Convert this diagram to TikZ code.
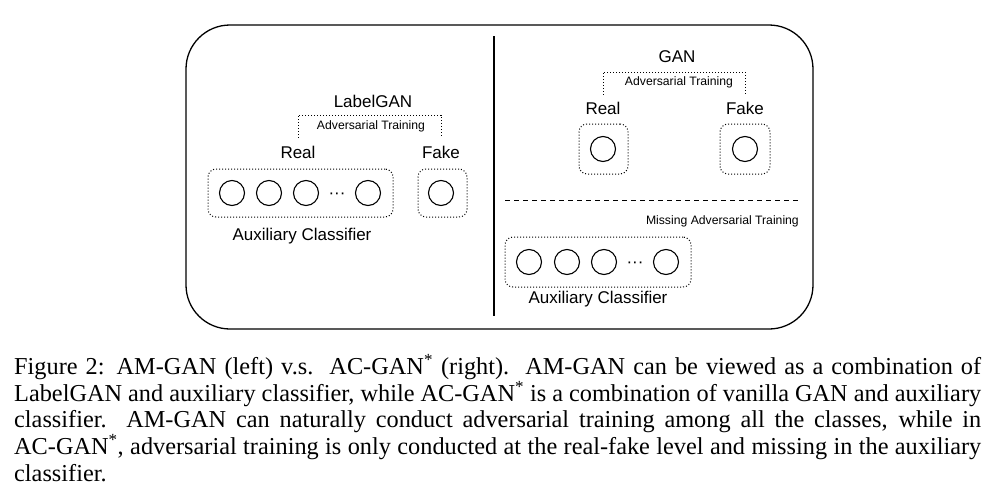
\documentclass[tikz,border=0pt]{standalone}
\usepackage{fontspec}
\setmainfont{Liberation Serif}
\newfontfamily\diagfont{Liberation Sans}
\usetikzlibrary{positioning}
\hyphenpenalty=10000

\begin{document}
\begin{tikzpicture}[x=1pt,y=-1pt,
    cell/.style={circle,draw,line width=1.1pt,minimum size=25pt,inner sep=0pt},
    dotbox/.style={draw,dotted,line width=1pt,rounded corners=8pt,inner sep=0pt},
    txt/.style={font=\diagfont\fontsize{17}{20}\selectfont,inner sep=0pt},
    smalltxt/.style={font=\diagfont\fontsize{12.2}{14}\selectfont,inner sep=0pt},
    bracket/.style={dotted,line width=1pt}]
  \useasboundingbox (0,0) rectangle (997,493);
  \def\cy{193} % row of the left units
  \def\ry{262} % row of the right units

  % frame
  \draw[line width=1.3pt,rounded corners=44pt] (186,25) rectangle (813,329);
  \draw[line width=1.5pt] (494,36) -- (494,316);

  % left: LabelGAN
  \node[dotbox,minimum width=185pt,minimum height=48pt] (lbox) at (300.5,\cy) {};
  \node[dotbox,minimum width=49pt,minimum height=48pt] (lfbox) at (442.5,\cy) {};
  \foreach \x/\n in {232/1,269/2,306/3,368/4}
    \node[cell] (l\n) at (\x,\cy) {};
  \node[txt] (ldots) at (337,\cy+3) {···};
  \node[cell] (lf) at (441,\cy) {};
  \node[txt] (lreal) at (298,152) {Real};
  \node[txt] (lfake) at (441,152) {Fake};
  \node[txt] (lname) at (373,101) {LabelGAN};
  \coordinate (ltop) at (371,115);
  \node[smalltxt] (ltrain) at (371,126) {Adversarial Training};
  \draw[bracket] ([yshift=8pt]lreal.north) |- (ltop) -| ([yshift=8pt]lfake.north);
  \node[txt] (laux) at (302,236) {Auxiliary Classifier};

  % right: GAN + classifier
  \node[txt] (rname) at (677,57) {GAN};
  \coordinate (rtop) at (676,72);
  \node[smalltxt] (rtrain) at (679,82) {Adversarial Training};
  \node[txt] (rreal) at (603,108) {Real};
  \node[txt] (rfake) at (745,108) {Fake};
  \draw[bracket] ([yshift=7pt]rreal.north) |- (rtop) -| ([yshift=7pt]rfake.north);
  \node[dotbox,minimum width=49pt,minimum height=50pt] (rrbox) at (603.5,149) {};
  \node[dotbox,minimum width=50pt,minimum height=50pt] (rfbox) at (745,149) {};
  \node[cell] (rr) at (603,149) {};
  \node[cell] (rf) at (745,149) {};
  \draw[dash pattern=on 5pt off 4pt,line width=1pt] (505,200) -- (800,200);
  \node[smalltxt,anchor=east] (rmiss) at (799,221) {Missing Adversarial Training};
  \node[dotbox,minimum width=186pt,minimum height=50pt] (rbox) at (598,\ry) {};
  \foreach \x/\n in {529/1,567/2,604/3,666/4}
    \node[cell] (r\n) at (\x,\ry) {};
  \node[txt] (rdots) at (635,\ry+3) {···};
  \node[txt] (raux) at (598,299) {Auxiliary Classifier};

  % caption
  \node[anchor=north west,inner sep=0pt,text width=967pt,align=justify,
        font=\fontsize{24.3}{26.75}\selectfont] (cap) at (14,354)
    {Figure 2: AM-GAN (left) v.s.\ \ AC-GAN\textsuperscript{*} (right).\ \ AM-GAN can be viewed as a combination of\linebreak
     LabelGAN and auxiliary classifier, while AC-GAN\textsuperscript{*} is a combination of vanilla GAN and auxiliary\linebreak
     classifier.\ \ AM-GAN can naturally conduct adversarial training among all the classes, while in\linebreak
     AC-GAN\textsuperscript{*}, adversarial training is only conducted at the real-fake level and missing in the auxiliary\linebreak
     classifier.};
\end{tikzpicture}
\end{document}
